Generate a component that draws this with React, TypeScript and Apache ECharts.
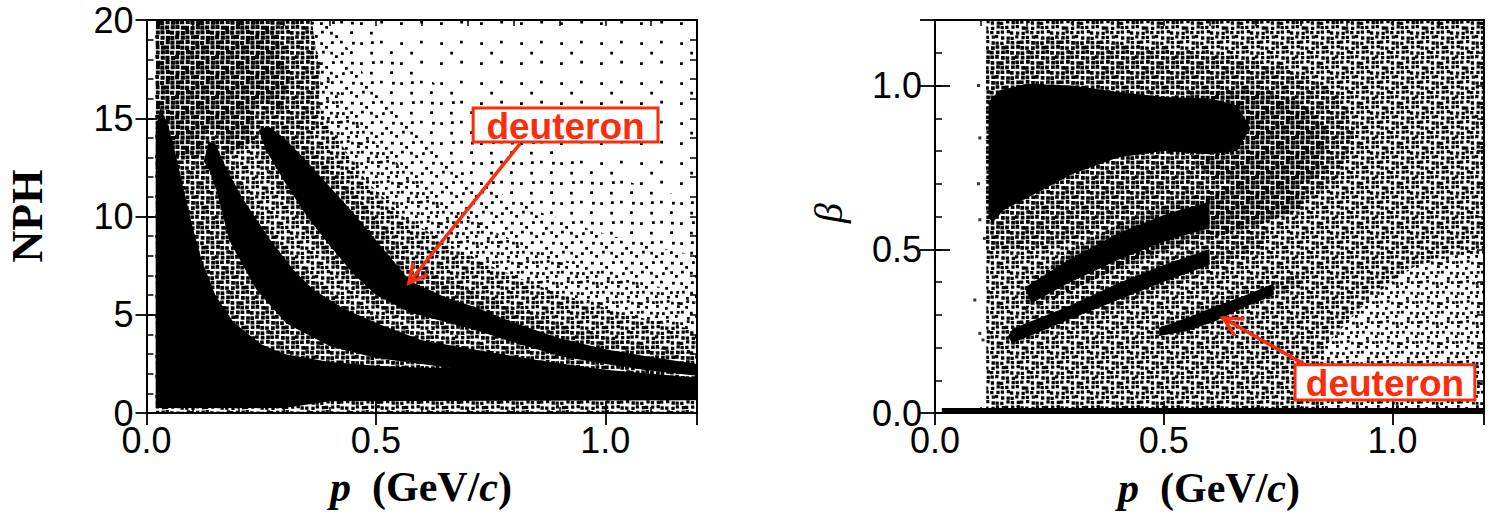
import React, { useEffect, useRef } from "react";
import * as echarts from "echarts";

type Pt = [number, number];

// ---------------- axes ----------------
const P_MIN = 0;
const P_MAX = 1.2;
const NPH_MIN = 0;
const NPH_MAX = 20;
const BETA_MIN = 0;
const BETA_MAX = 1.2;
const P_MAJOR = 0.5;
const P_MINOR = 0.1;
const NPH_MAJOR = 5;
const NPH_MINOR = 1;
const BETA_MAJOR = 0.5;
const BETA_MINOR = 0.1;

// ---------------- left panel: NPH vs p (outlines of the point-density regions) ----------------
const NPH_ALL: Pt[] = [[0.02, 0], [0.02, 20], [1.2, 20], [1.2, 0]];
const NPH_L2_TOP: Pt[] = [[0.02, 20], [0.48, 20], [0.56, 18], [0.66, 16.2], [0.76, 14.8], [0.86, 13.6], [0.96, 12.6], [1.06, 11.7], [1.2, 10.8]];
const NPH_L3_TOP: Pt[] = [[0.02, 20], [0.4, 20], [0.48, 17], [0.56, 14.8], [0.66, 12.8], [0.76, 11.3], [0.86, 10.2], [0.96, 9.4], [1.06, 8.7], [1.2, 8.0]];
const NPH_L4_TOP: Pt[] = [[0.02, 20], [0.34, 20], [0.4, 17], [0.48, 14.2], [0.57, 12.2], [0.66, 10.6], [0.76, 9.2], [0.86, 8.2], [0.96, 7.4], [1.06, 6.7], [1.2, 6.0]];
const NPH_L5_TOP: Pt[] = [[0.02, 20], [0.3, 20], [0.34, 17.5], [0.4, 14.5], [0.48, 11.8], [0.56, 10.0], [0.65, 8.7], [0.75, 7.5], [0.85, 6.5], [0.95, 5.7], [1.05, 5.0], [1.2, 4.2]];
const NPH_TOP_MID: Pt[] = [[0.25, 20], [0.36, 20], [0.38, 17], [0.37, 14.5], [0.3, 13.5], [0.25, 14]];
const NPH_TOPLEFT_DENSE: Pt[] = [[0.02, 20], [0.28, 20], [0.31, 17], [0.29, 15], [0.25, 14], [0.18, 13.2], [0.12, 12.5], [0.06, 12], [0.02, 12]];
const NPH_GAP_A: Pt[] = [[0.04, 13], [0.125, 13], [0.14, 12], [0.16, 10], [0.2, 8], [0.25, 6], [0.32, 4.6], [0.4, 3.9], [0.5, 3.3], [0.65, 2.9], [0.8, 2.6], [0.8, 1.8], [0.4, 2.0], [0.15, 3.0], [0.05, 6]];
const NPH_PROTON_HALO: Pt[] = [[0.24, 16], [0.3, 15.2], [0.35, 14], [0.4, 12.7], [0.45, 11.3], [0.5, 9.9], [0.575, 7.7], [0.65, 6.8], [0.72, 6.2], [0.8, 5.4], [0.9, 4.5], [1.0, 3.9], [1.1, 3.4], [1.2, 3.0], [1.2, 1.7], [1.0, 2.2], [0.9, 2.6], [0.8, 3.2], [0.72, 3.8], [0.65, 4.2], [0.575, 4.6], [0.5, 5.4], [0.45, 6.4], [0.4, 7.7], [0.35, 9.2], [0.3, 10.8], [0.26, 12.4], [0.23, 14]];
const NPH_BAND1_HALO: Pt[] = [[0.12, 13.5], [0.135, 14.5], [0.16, 14.2], [0.19, 12.6], [0.23, 10.8], [0.29, 8.7], [0.34, 7.3], [0.39, 6.3], [0.46, 5.3], [0.54, 4.5], [0.63, 3.9], [0.75, 3.5], [0.9, 3.0], [1.05, 2.5], [1.2, 2.1], [1.2, 1.4], [0.6, 2.0], [0.3, 3.5], [0.2, 5.5], [0.15, 8], [0.125, 11]];
const NPH_LOW_MASS: Pt[] = [[0.02, 0.25], [0.02, 14.5], [0.03, 15.5], [0.045, 14.8], [0.06, 13.5], [0.08, 11.5], [0.1, 9.5], [0.12, 7.8], [0.15, 6.0], [0.19, 4.6], [0.25, 3.5], [0.3, 3.0], [0.4, 2.6], [0.5, 2.4], [0.6, 2.3], [0.72, 2.3], [0.85, 2.1], [1.0, 1.85], [1.2, 1.65], [1.2, 0.65], [0.4, 0.6], [0.3, 0.25]];
const NPH_BAND1: Pt[] = [[0.125, 12.8], [0.135, 13.8], [0.15, 13.7], [0.175, 12.4], [0.21, 10.9], [0.27, 8.8], [0.32, 7.3], [0.363, 6.3], [0.43, 5.3], [0.509, 4.5], [0.6, 3.7], [0.72, 3.2], [0.85, 2.7], [1.0, 2.2], [1.2, 1.8], [1.2, 1.5], [0.72, 2.1], [0.6, 2.5], [0.5, 2.8], [0.4, 3.4], [0.305, 4.56], [0.24, 6.26], [0.18, 8.8], [0.153, 11.3], [0.138, 12.3]];
const NPH_PROTON: Pt[] = [[0.265, 14.6], [0.3, 14.0], [0.35, 12.8], [0.4, 11.5], [0.45, 10.2], [0.5, 8.8], [0.575, 6.7], [0.65, 5.9], [0.72, 5.35], [0.8, 4.6], [0.9, 3.8], [1.0, 3.25], [1.1, 2.85], [1.2, 2.5], [1.2, 1.9], [1.1, 2.15], [1.0, 2.5], [0.9, 2.9], [0.8, 3.6], [0.72, 4.2], [0.65, 4.65], [0.575, 5.1], [0.5, 6.0], [0.45, 7.1], [0.4, 8.5], [0.35, 10.0], [0.3, 11.8], [0.26, 13.4], [0.245, 14.4]];

// annotation (data coordinates)
const NPH_LABEL_BOX: Pt[] = [[0.712, 15.52], [1.115, 13.79]];
const NPH_ARROW: Pt[] = [[0.814, 13.7], [0.572, 6.62]];

// ---------------- right panel: beta vs p ----------------
const BETA_ALL: Pt[] = [[0.112, 0.015], [0.112, 1.2], [1.2, 1.2], [1.2, 0.015]];
const BETA_LOWRIGHT_SPARSE: Pt[] = [[0.85, 0.015], [0.85, 0.2], [0.95, 0.35], [1.05, 0.45], [1.2, 0.5], [1.2, 0.015]];
const BETA_AROUND_BLOB: Pt[] = [[0.112, 0.5], [0.112, 1.12], [0.25, 1.15], [0.45, 1.12], [0.6, 1.1], [0.75, 1.06], [0.88, 0.98], [0.92, 0.85], [0.88, 0.72], [0.8, 0.63], [0.7, 0.62], [0.6, 0.62], [0.5, 0.6], [0.4, 0.58], [0.3, 0.52], [0.2, 0.5]];
const BETA_BLOB_TAIL: Pt[] = [[0.55, 0.98], [0.7, 0.99], [0.8, 0.95], [0.86, 0.86], [0.84, 0.72], [0.75, 0.68], [0.6, 0.72], [0.55, 0.8]];
const BETA_BAND2_HALO: Pt[] = [[0.19, 0.38], [0.29, 0.49], [0.4, 0.575], [0.51, 0.635], [0.62, 0.68], [0.72, 0.74], [0.8, 0.78], [0.8, 0.62], [0.72, 0.58], [0.62, 0.54], [0.51, 0.5], [0.4, 0.44], [0.29, 0.37], [0.2, 0.32]];
const BETA_BAND3_HALO: Pt[] = [[0.155, 0.25], [0.29, 0.345], [0.4, 0.415], [0.51, 0.478], [0.62, 0.53], [0.72, 0.58], [0.72, 0.5], [0.62, 0.44], [0.51, 0.385], [0.4, 0.325], [0.29, 0.265], [0.16, 0.2]];
const BETA_DEUTERON_HALO: Pt[] = [[0.48, 0.27], [0.6, 0.335], [0.7, 0.39], [0.8, 0.43], [0.8, 0.39], [0.7, 0.33], [0.6, 0.27], [0.48, 0.225]];
const BETA_BLOB: Pt[] = [[0.117, 0.6], [0.117, 0.95], [0.14, 0.985], [0.2, 1.005], [0.3, 1.0], [0.4, 0.98], [0.5, 0.965], [0.6, 0.96], [0.66, 0.94], [0.69, 0.87], [0.66, 0.8], [0.6, 0.79], [0.5, 0.8], [0.4, 0.78], [0.3, 0.73], [0.22, 0.67], [0.15, 0.62], [0.125, 0.58]];
const BETA_BAND2: Pt[] = [[0.2, 0.37], [0.204, 0.39], [0.291, 0.467], [0.4, 0.549], [0.51, 0.61], [0.6, 0.645], [0.6, 0.565], [0.51, 0.528], [0.4, 0.467], [0.291, 0.396], [0.211, 0.335]];
const BETA_BAND3: Pt[] = [[0.16, 0.235], [0.17, 0.258], [0.291, 0.325], [0.4, 0.396], [0.51, 0.457], [0.6, 0.5], [0.6, 0.452], [0.51, 0.406], [0.4, 0.345], [0.291, 0.284], [0.168, 0.213]];
const BETA_DEUTERON: Pt[] = [[0.49, 0.26], [0.55, 0.29], [0.612, 0.325], [0.68, 0.36], [0.74, 0.395], [0.74, 0.36], [0.68, 0.325], [0.612, 0.28], [0.55, 0.25], [0.49, 0.235]];
const BETA_ZERO_LINE: Pt[] = [[0.015, 0], [0.015, 0.015], [1.2, 0.015], [1.2, 0]];
const BETA_STRAY: Pt[] = [[0.095, 1.0], [0.098, 0.84], [0.095, 0.7], [0.098, 0.59], [0.087, 0.345], [0.098, 0.243], [0.105, 0.223], [0.108, 0.533]];

const BETA_LABEL_BOX: Pt[] = [[0.787, 0.147], [1.18, 0.04]];
const BETA_ARROW: Pt[] = [[0.809, 0.147], [0.63, 0.29]];

// ---------------- styles ----------------
const RED = "#fa2d0c";
const TICK_FONT = "'Liberation Sans', Arial, Helvetica, sans-serif";
const SERIF = "'Liberation Serif', 'Times New Roman', serif";

// ordered-dither texture used to render point densities
const BAYER = [
  [0, 32, 8, 40, 2, 34, 10, 42],
  [48, 16, 56, 24, 50, 18, 58, 26],
  [12, 44, 4, 36, 14, 46, 6, 38],
  [60, 28, 52, 20, 62, 30, 54, 22],
  [3, 35, 11, 43, 1, 33, 9, 41],
  [51, 19, 59, 27, 49, 17, 57, 25],
  [15, 47, 7, 39, 13, 45, 5, 37],
  [63, 31, 55, 23, 61, 29, 53, 21],
];
const JIT = [0.1, 0.8, 0.45, 1.0, 0.0, 0.6, 0.9, 0.3];

function makeTile(n: number, s: number): any {
  const T = 40;
  const C = 5;
  let d = "";
  for (let r = 0; r < 8; r++) {
    for (let c = 0; c < 8; c++) {
      if (BAYER[r][c] >= n) continue;
      const room = C - s;
      const x = c * C + JIT[(r * 3 + c) % 8] * room;
      const y = r * C + JIT[(c * 5 + r * 2 + 3) % 8] * room;
      d += `M${x.toFixed(2)} ${y.toFixed(2)}h${s}v${s}h${-s}z`;
    }
  }
  const svg = `<svg xmlns="http://www.w3.org/2000/svg" width="${T}" height="${T}"><rect width="${T}" height="${T}" fill="#ffffff"/><path d="${d}" fill="#000000"/></svg>`;
  return {
    image: "data:image/svg+xml;charset=utf-8," + encodeURIComponent(svg),
    repeat: "repeat",
    imageWidth: T,
    imageHeight: T,
  };
}

const FILLS: Record<string, any> = {
  l1: makeTile(5, 2.8),
  l2: makeTile(12, 2.8),
  l3: makeTile(24, 2.8),
  l4: makeTile(44, 2.8),
  l5: makeTile(64, 3.3),
  l6: makeTile(64, 3.7),
  l7: makeTile(64, 4.1),
  black: "#000000",
};

const under = (curve: Pt[]): Pt[] => [...curve, [1.2, 0], [0.02, 0]];

const LEFT_REGIONS: { pts: Pt[]; fill: string }[] = [
  { pts: NPH_ALL, fill: "l1" },
  { pts: under(NPH_L2_TOP), fill: "l2" },
  { pts: under(NPH_L3_TOP), fill: "l3" },
  { pts: under(NPH_L4_TOP), fill: "l4" },
  { pts: under(NPH_L5_TOP), fill: "l5" },
  { pts: NPH_TOP_MID, fill: "l6" },
  { pts: NPH_TOPLEFT_DENSE, fill: "l7" },
  { pts: NPH_GAP_A, fill: "l6" },
  { pts: NPH_PROTON_HALO, fill: "l6" },
  { pts: NPH_BAND1_HALO, fill: "l6" },
  { pts: NPH_LOW_MASS, fill: "black" },
  { pts: NPH_BAND1, fill: "black" },
  { pts: NPH_PROTON, fill: "black" },
];

const RIGHT_REGIONS: { pts: Pt[]; fill: string }[] = [
  { pts: BETA_ALL, fill: "l5" },
  { pts: BETA_LOWRIGHT_SPARSE, fill: "l4" },
  { pts: BETA_AROUND_BLOB, fill: "l6" },
  { pts: BETA_BLOB_TAIL, fill: "l7" },
  { pts: BETA_BAND2_HALO, fill: "l7" },
  { pts: BETA_BAND3_HALO, fill: "l6" },
  { pts: BETA_DEUTERON_HALO, fill: "l6" },
  { pts: BETA_BLOB, fill: "black" },
  { pts: BETA_BAND2, fill: "black" },
  { pts: BETA_BAND3, fill: "black" },
  { pts: BETA_DEUTERON, fill: "black" },
  { pts: BETA_ZERO_LINE, fill: "black" },
];

function regionSeries(regions: { pts: Pt[]; fill: string }[], axisIndex: number): any {
  return {
    type: "custom",
    xAxisIndex: axisIndex,
    yAxisIndex: axisIndex,
    silent: true,
    clip: true,
    data: regions.map((_, i) => [i]),
    renderItem: (params: any, api: any) => {
      const reg = regions[params.dataIndex];
      const points = reg.pts.map((p) => api.coord(p));
      return {
        type: "polygon",
        shape: { points },
        style: { fill: FILLS[reg.fill], stroke: "none", lineWidth: 0 },
      };
    },
  };
}

function xAxes(grid: number): any[] {
  const base = {
    gridIndex: grid,
    type: "value",
    min: P_MIN,
    max: P_MAX,
    z: 10,
    splitLine: { show: false },
  };
  const line = { show: true, onZero: false, lineStyle: { color: "#000", width: 2 } };
  const minorTick = { show: true, inside: true, length: 6, lineStyle: { color: "#000", width: 1.5 } };
  const majorTick = { show: true, inside: true, length: 12, lineStyle: { color: "#000", width: 1.8 } };
  return [
    { ...base, position: "bottom", interval: P_MINOR, axisLine: line, axisTick: minorTick, axisLabel: { show: false } },
    {
      ...base,
      position: "bottom",
      interval: P_MAJOR,
      axisLine: { show: false },
      axisTick: majorTick,
      axisLabel: {
        show: true,
        showMaxLabel: false,
        margin: 9,
        color: "#000",
        fontSize: 36,
        fontFamily: TICK_FONT,
        formatter: (v: number) => v.toFixed(1),
      },
    },
    { ...base, position: "top", interval: P_MINOR, axisLine: line, axisTick: minorTick, axisLabel: { show: false } },
    { ...base, position: "top", interval: P_MAJOR, axisLine: { show: false }, axisTick: majorTick, axisLabel: { show: false } },
  ];
}

function yAxes(grid: number, min: number, max: number, major: number, minor: number, majorLen: number, fmt: (v: number) => string, showMax: boolean): any[] {
  const base = { gridIndex: grid, type: "value", min, max, z: 10, splitLine: { show: false } };
  const line = { show: true, onZero: false, lineStyle: { color: "#000", width: 2 } };
  const minorTick = { show: true, inside: true, length: 7, lineStyle: { color: "#000", width: 1.5 } };
  const majorTick = { show: true, inside: true, length: majorLen, lineStyle: { color: "#000", width: 1.8 } };
  return [
    { ...base, position: "left", interval: minor, axisLine: line, axisTick: minorTick, axisLabel: { show: false } },
    {
      ...base,
      position: "left",
      interval: major,
      axisLine: { show: false },
      axisTick: majorTick,
      axisLabel: {
        show: true,
        showMaxLabel: showMax,
        margin: 13,
        color: "#000",
        fontSize: 36,
        fontFamily: TICK_FONT,
        formatter: fmt,
      },
    },
    { ...base, position: "right", interval: minor, axisLine: line, axisTick: minorTick, axisLabel: { show: false } },
    { ...base, position: "right", interval: major, axisLine: { show: false }, axisTick: majorTick, axisLabel: { show: false } },
  ];
}

function annotation(chart: any, axisIndex: number, box: Pt[], arrow: Pt[]): any[] {
  const toPx = (v: Pt) => chart.convertToPixel({ xAxisIndex: axisIndex, yAxisIndex: axisIndex }, v) as number[];
  const b0 = toPx(box[0]);
  const b1 = toPx(box[1]);
  const tail = toPx(arrow[0]);
  const tip = toPx(arrow[1]);
  const dx = tip[0] - tail[0];
  const dy = tip[1] - tail[1];
  const len = Math.hypot(dx, dy);
  const ux = dx / len;
  const uy = dy / len;
  const L = 21;
  const th = (27 * Math.PI) / 180;
  const arm = (sgn: number) => {
    const c = Math.cos(sgn * th);
    const s = Math.sin(sgn * th);
    const rx = ux * c - uy * s;
    const ry = ux * s + uy * c;
    return [tip[0] - rx * L, tip[1] - ry * L];
  };
  return [
    {
      type: "line",
      z: 100,
      shape: { x1: tail[0], y1: tail[1], x2: tip[0], y2: tip[1] },
      style: { stroke: RED, lineWidth: 3.5 },
    },
    {
      type: "polyline",
      z: 100,
      shape: { points: [arm(1), [tip[0], tip[1]], arm(-1)] },
      style: { stroke: RED, lineWidth: 3.5, fill: "none", lineJoin: "miter" },
    },
    {
      type: "rect",
      z: 101,
      shape: { x: b0[0], y: b0[1], width: b1[0] - b0[0], height: b1[1] - b0[1] },
      style: { fill: "#fff", stroke: RED, lineWidth: 3 },
    },
    {
      type: "text",
      z: 102,
      x: (b0[0] + b1[0]) / 2,
      y: (b0[1] + b1[1]) / 2 + 1,
      style: {
        text: "deuteron",
        fill: RED,
        font: `bold 37px ${TICK_FONT}`,
        align: "center",
        verticalAlign: "middle",
      },
    },
  ];
}

export default function App() {
  const ref = useRef<HTMLDivElement>(null);

  useEffect(() => {
    if (!ref.current) return;
    const chart = echarts.init(ref.current, null, { renderer: "svg" });

    const option: any = {
      animation: false,
      backgroundColor: "#ffffff",
      grid: [
        { left: 146.5, top: 20, width: 550.5, height: 393, containLabel: false, outerBoundsMode: "none" },
        { left: 935, top: 20, width: 549, height: 393, containLabel: false, outerBoundsMode: "none" },
      ],
      xAxis: [...xAxes(0), ...xAxes(1)],
      yAxis: [
        ...yAxes(0, NPH_MIN, NPH_MAX, NPH_MAJOR, NPH_MINOR, 11, (v: number) => String(v), true),
        ...yAxes(1, BETA_MIN, BETA_MAX, BETA_MAJOR, BETA_MINOR, 15, (v: number) => v.toFixed(1), false),
      ],
      series: [
        regionSeries(LEFT_REGIONS, 0),
        regionSeries(RIGHT_REGIONS, 4),
        {
          type: "scatter",
          xAxisIndex: 4,
          yAxisIndex: 4,
          symbol: "rect",
          symbolSize: 3,
          itemStyle: { color: "#000" },
          silent: true,
          data: BETA_STRAY,
        },
      ],
    };
    chart.setOption(option);

    const titleStyle = (text: string) => ({
      text,
      fill: "#000",
      font: `bold 42px ${SERIF}`,
      align: "center",
      verticalAlign: "middle",
      rich: {
        i: { fontStyle: "italic", fontWeight: "bold", fontSize: 42, fontFamily: SERIF, fill: "#000" },
        n: { fontWeight: "bold", fontSize: 42, fontFamily: SERIF, fill: "#000" },
      },
    });

    chart.setOption({
      graphic: [
        ...annotation(chart, 0, NPH_LABEL_BOX, NPH_ARROW),
        ...annotation(chart, 4, BETA_LABEL_BOX, BETA_ARROW),
        { type: "text", x: 421, y: 487, style: titleStyle("{i|p}{n|  (GeV/}{i|c}{n|)}") },
        { type: "text", x: 1209, y: 488, style: titleStyle("{i|p}{n|  (GeV/}{i|c}{n|)}") },
        {
          type: "text",
          x: 27,
          y: 216,
          rotation: Math.PI / 2,
          style: { text: "NPH", fill: "#000", font: `bold 44px ${SERIF}`, align: "center", verticalAlign: "middle" },
        },
        {
          type: "text",
          x: 828,
          y: 213,
          rotation: Math.PI / 2,
          style: { text: "β", fill: "#000", font: `italic 40px ${SERIF}`, align: "center", verticalAlign: "middle" },
        },
      ],
    });

    return () => chart.dispose();
  }, []);

  return (
    <div
      ref={ref}
      style={{ position: "fixed", left: 0, top: 0, width: 1494, height: 518, background: "#fff" }}
    />
  );
}
